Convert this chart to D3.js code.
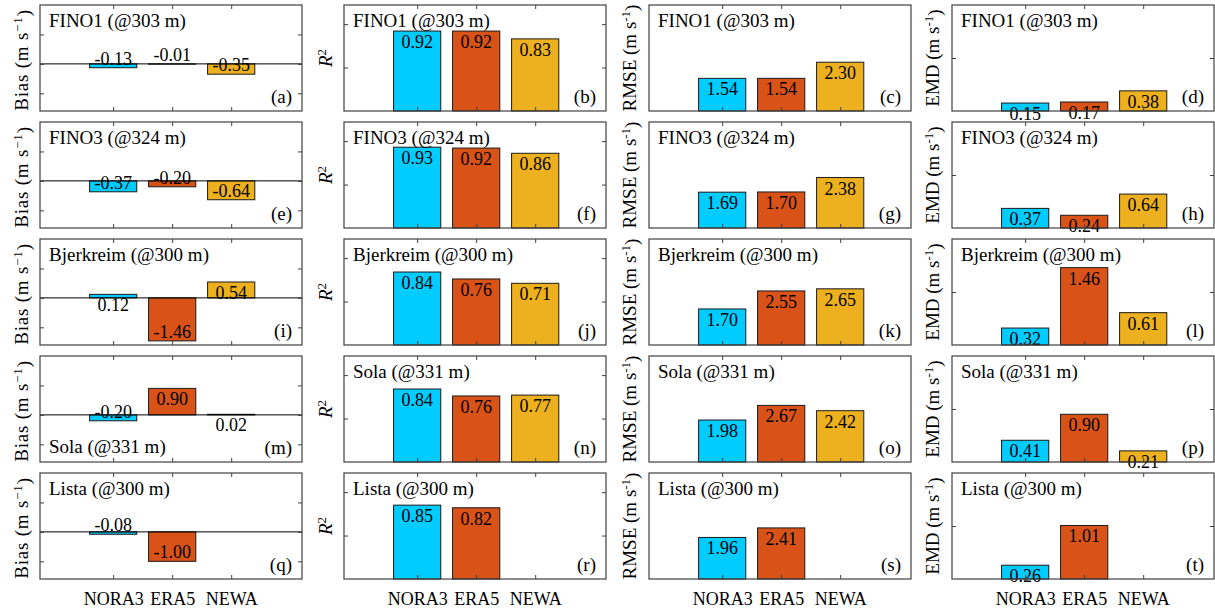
<!DOCTYPE html>
<html><head><meta charset="utf-8">
<script src="https://cdn.jsdelivr.net/npm/d3@7"></script>
<style>
body{margin:0;background:#fff}
svg{display:block}
text{font-family:"Liberation Serif","Times New Roman",serif;fill:#000}
</style>
</head><body><svg id="c" width="1215" height="610"></svg>
<script>
const models = ["NORA3", "ERA5", "NEWA"];
const stations = ["FINO1 (@303 m)", "FINO3 (@324 m)", "Bjerkreim (@300 m)", "Sola (@331 m)", "Lista (@300 m)"];
const panelLetters = ["a","b","c","d","e","f","g","h","i","j","k","l","m","n","o","p","q","r","s","t"];
const bias = [[-0.13, -0.01, -0.35], [-0.37, -0.20, -0.64], [0.12, -1.46, 0.54], [-0.20, 0.90, 0.02], [-0.08, -1.00, null]];
const r2   = [[0.92, 0.92, 0.83], [0.93, 0.92, 0.86], [0.84, 0.76, 0.71], [0.84, 0.76, 0.77], [0.85, 0.82, null]];
const rmse = [[1.54, 1.54, 2.30], [1.69, 1.70, 2.38], [1.70, 2.55, 2.65], [1.98, 2.67, 2.42], [1.96, 2.41, null]];
const emd  = [[0.15, 0.17, 0.38], [0.37, 0.24, 0.64], [0.32, 1.46, 0.61], [0.41, 0.90, 0.21], [0.26, 1.01, null]];
const biasTicks = [-1, 0, 1];
const r2Ticks = [0.5, 1];
const rmseTicks = [];
const emdTicks = [1];
const colors = ["#00CCFF", "#D95319", "#EDB120"];

const metrics = [
  {values: bias, domain: [-1.6, 2], ticks: biasTicks, zero: true, label: "bias"},
  {values: r2, domain: [0, 1.22], ticks: r2Ticks, label: "r2"},
  {values: rmse, domain: [0, 5], ticks: rmseTicks, label: "rmse"},
  {values: emd, domain: [0, 2], ticks: emdTicks, label: "emd"}
];

const colX = [40, 344, 649, 952], pw = 262;
const rowY = [5, 122, 239, 356, 473], ph = 106;
const ylabX = [21, 325, 629, 932];

const svg = d3.select("#c");
const x = d3.scaleLinear().domain([-0.24, 4.2]).range([0, pw]);
const bw = x(0.8) - x(0);

stations.forEach((st, r) => {
  metrics.forEach((m, c) => {
    const g = svg.append("g").attr("transform", `translate(${colX[c]},${rowY[r]})`);
    const y = d3.scaleLinear().domain(m.domain).range([ph, 0]);
    const vals = m.values[r];

    // bars
    vals.forEach((v, i) => {
      if (v === null) return;
      g.append("rect")
        .attr("x", x(i + 1) - bw / 2)
        .attr("width", bw)
        .attr("y", y(Math.max(v, 0)))
        .attr("height", Math.abs(y(v) - y(0)))
        .attr("fill", colors[i])
        .attr("stroke", "#1a1a1a")
        .attr("stroke-width", 1);
    });
    if (m.zero) {
      g.append("line").attr("x1", 0).attr("x2", pw).attr("y1", y(0)).attr("y2", y(0))
        .attr("stroke", "#000").attr("stroke-width", 1);
    }
    // value labels
    vals.forEach((v, i) => {
      if (v === null) return;
      g.append("text")
        .attr("x", x(i + 1))
        .attr("y", v >= 0 ? y(v) + 17 : y(v) - 3)
        .attr("text-anchor", "middle")
        .style("font-size", "18px")
        .text(v.toFixed(2));
    });

    // axes with inward ticks
    const styleAxis = sel => {
      sel.select(".domain").remove();
      sel.selectAll(".tick line").attr("stroke", "#404040");
    };
    g.append("g").call(d3.axisLeft(y).tickValues(m.ticks).tickSizeInner(-4).tickSizeOuter(0).tickFormat("")).call(styleAxis);
    g.append("g").attr("transform", `translate(${pw},0)`).call(d3.axisRight(y).tickValues(m.ticks).tickSizeInner(-4).tickSizeOuter(0).tickFormat("")).call(styleAxis);
    g.append("g").call(d3.axisTop(x).tickValues([1, 2, 3]).tickSizeInner(-4).tickSizeOuter(0).tickFormat("")).call(styleAxis);
    const bottom = d3.axisBottom(x).tickValues([1, 2, 3]).tickSizeInner(-4).tickSizeOuter(0).tickPadding(13)
      .tickFormat(r === stations.length - 1 ? (d => models[d - 1]) : "");
    const bx = g.append("g").attr("transform", `translate(0,${ph})`).call(bottom).call(styleAxis);
    bx.selectAll("text").style("font-size", "18px").style("font-family", '"Liberation Serif",serif').attr("fill", "#000");

    // frame
    g.append("rect").attr("x", 0).attr("y", 0).attr("width", pw).attr("height", ph)
      .attr("fill", "none").attr("stroke", "#404040").attr("stroke-width", 1.2);

    // station title
    const atBottom = (c === 0 && r === 3);
    g.append("text").attr("x", 9).attr("y", atBottom ? ph - 9 : 22)
      .style("font-size", "19px").text(st);
    // panel letter
    g.append("text").attr("x", pw - 10).attr("y", ph - 8).attr("text-anchor", "end")
      .style("font-size", "19px").text("(" + panelLetters[r * 4 + c] + ")");

    // y label
    const yl = svg.append("text")
      .attr("transform", `translate(${ylabX[c]},${rowY[r] + ph / 2 + (c === 0 ? 2 : 0)}) rotate(-90)`)
      .attr("text-anchor", "middle").attr("dy", "0.35em")
      .style("font-size", "19px");
    if (c === 1) {
      yl.append("tspan").style("font-style", "italic").text("R");
      yl.append("tspan").attr("dy", "-0.45em").style("font-size", "13px").text("2");
    } else {
      const name = c === 0 ? "Bias (m s" : (c === 2 ? "RMSE (m s" : "EMD (m s");
      const sup = c === 0 ? "\u22121" : "-1";
      if (c === 0) yl.style("letter-spacing", "0.8px");
      yl.append("tspan").text(name);
      yl.append("tspan").attr("dy", "-0.45em").style("font-size", "13px").text(sup);
      yl.append("tspan").attr("dy", "0.45em").text(")");
    }
  });
});
</script>
</body></html>
